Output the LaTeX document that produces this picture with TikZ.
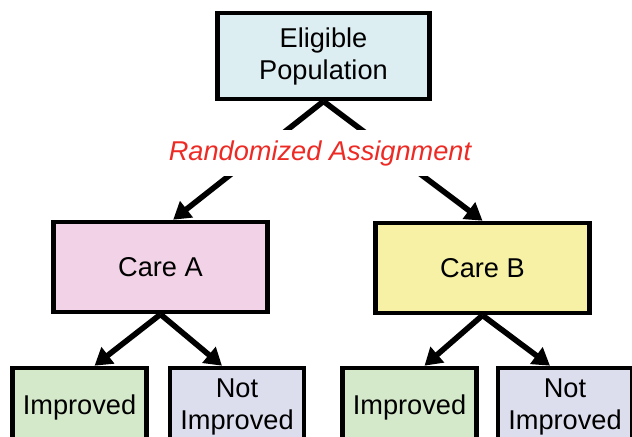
\documentclass[tikz,border=0pt]{standalone}
\usepackage{fontspec}
\setmainfont{Liberation Sans}
\usepackage{tikz}
\usetikzlibrary{arrows.meta,positioning,calc}
\usepackage{xcolor}
\definecolor{pblue}{HTML}{DDEEF3}
\definecolor{ppink}{HTML}{F2D2E6}
\definecolor{pyellow}{HTML}{F6F1A4}
\definecolor{pgreen}{HTML}{D4E8CA}
\definecolor{plav}{HTML}{DCDEEE}
\definecolor{pred}{HTML}{EE2A24}
\tikzset{
  box/.style     = {draw, line width=2.3pt, rectangle, align=center,
                    font=\fontsize{13.6}{16}\selectfont},
  bigbox/.style  = {box, minimum width=107pt, minimum height=45pt},
  outbox/.style  = {box, minimum width=67pt, minimum height=39pt},
  arr/.style     = {-{Triangle[length=8.5pt,width=10pt]}, line width=2.8pt},
}
\begin{document}
\begin{tikzpicture}[x=0.5pt,y=-0.5pt]
\useasboundingbox (0,0) rectangle (632,436);
\clip (0,0) rectangle (632,436);
\node[box,fill=pblue,minimum width=106pt,minimum height=43pt] (elig) at (323.5,56) {Eligible\\Population};
\node[bigbox,fill=ppink]   (careA) at (160.5,267) {Care A};
\node[bigbox,fill=pyellow] (careB) at (482.5,268) {Care B};
\node[outbox,fill=pgreen]  (impA) at (79.5,407)  {Improved};
\node[outbox,fill=plav]    (notA) at (237,407)   {Not\\Improved};
\node[outbox,fill=pgreen]  (impB) at (409.5,407) {Improved};
\node[outbox,fill=plav]    (notB) at (565,407)   {Not\\Improved};
% randomization split
\draw[arr] (elig.south) -- (careA.75);
\draw[arr] (elig.south) -- (careB.north);
% outcomes
\draw[arr] (careA.south) -- (impA.70);
\draw[arr] (careA.south) -- (notA.110);
\draw[arr] (careB.south) -- (impB.70);
\draw[arr] (careB.south) -- (notB.110);
\node[fill=white,inner sep=5pt,text=pred,font=\fontsize{13.6}{16}\selectfont\itshape] (rand) at (320,153) {Randomized Assignment};
\end{tikzpicture}
\end{document}
